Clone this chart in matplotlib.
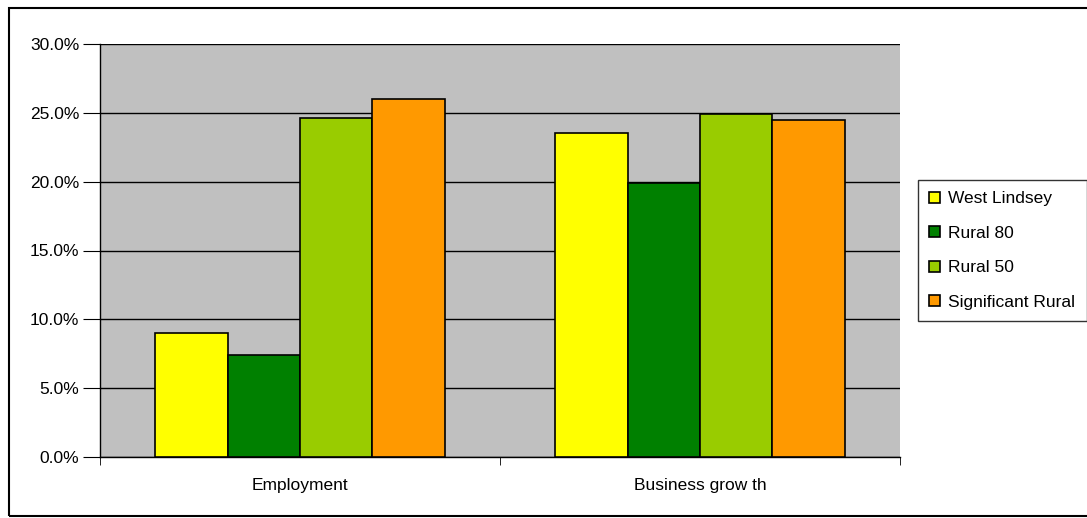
import matplotlib
matplotlib.use("Agg")
from matplotlib import pyplot as plt
from matplotlib.patches import Rectangle
from matplotlib.ticker import FuncFormatter
import numpy as np

plt.rcParams['font.family'] = ['Liberation Sans', 'DejaVu Sans']

# data
categories = ['Employment', 'Business grow th']
series_names = ['West Lindsey', 'Rural 80', 'Rural 50', 'Significant Rural']
west_lindsey = [9.0, 23.5]
rural_80 = [7.4, 19.9]
rural_50 = [24.6, 24.9]
significant_rural = [26.0, 24.5]
colors = ['#FFFF00', '#008000', '#99CC00', '#FF9900']

W, H = 1087, 518
fig = plt.figure(figsize=(W / 100, H / 100), dpi=100)
ax = fig.add_axes([100 / W, (H - 457) / H, 800 / W, 413 / H])
ax.set_facecolor('#C0C0C0')

x = np.arange(len(categories))
bw = 0.1812
all_series = [west_lindsey, rural_80, rural_50, significant_rural]
for i, (vals, name, c) in enumerate(zip(all_series, series_names, colors)):
    ax.bar(x + (i - 1.5) * bw, vals, bw, color=c, edgecolor='black',
           linewidth=1.2, label=name, zorder=3)

ax.set_xlim(-0.5, 1.5)
ax.set_ylim(0, 30)
ax.set_yticks(np.arange(0, 31, 5))
ax.yaxis.set_major_formatter(FuncFormatter(lambda v, p: f'{v:.1f}%'))
ax.yaxis.grid(True, color='black', linewidth=1)
ax.set_axisbelow(True)

ax.set_xticks(x)
ax.set_xticklabels(categories)
ax.set_xticks([-0.5, 0.5, 1.5], minor=True)
ax.tick_params(axis='x', which='major', length=0, pad=15, labelsize=12.5)
ax.tick_params(axis='x', which='minor', length=6, color='black')
ax.tick_params(axis='y', length=12, labelsize=12.5, pad=3)

for s in ['top', 'right']:
    ax.spines[s].set_visible(False)
for s in ['left', 'bottom']:
    ax.spines[s].set_color('black')
    ax.spines[s].set_linewidth(1)

leg = ax.legend(loc='upper left', bbox_to_anchor=(918 / W, (H - 180) / H),
                bbox_transform=fig.transFigure, frameon=True, fancybox=False,
                edgecolor='black', fontsize=12.5, handlelength=0.6,
                handleheight=0.6, handletextpad=0.5, labelspacing=1.12,
                borderpad=0.65, borderaxespad=0)
leg.get_frame().set_linewidth(1)

# chart area border
fig.patches.append(Rectangle((9 / W, 2 / H), 1.1, (H - 10) / H,
                             transform=fig.transFigure, fill=False,
                             edgecolor='black', linewidth=1.5))

fig.savefig('out.png', dpi=100)
